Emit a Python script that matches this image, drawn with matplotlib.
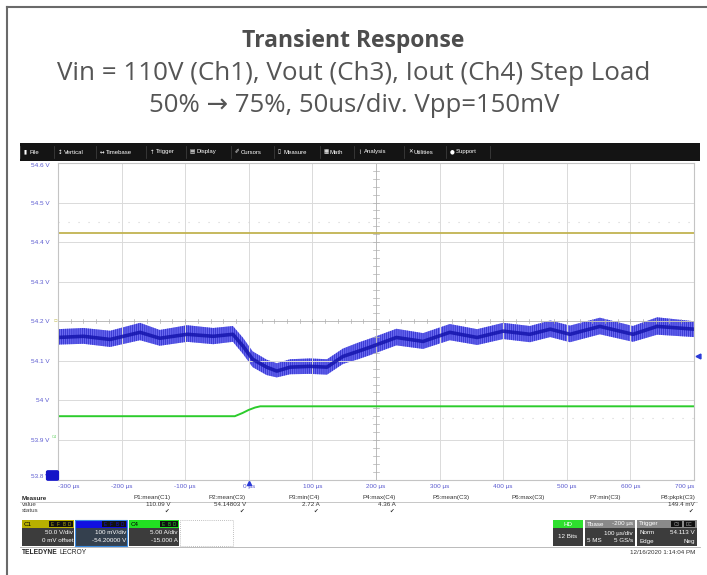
import matplotlib.pyplot as plt
from matplotlib.patches import Rectangle, FancyBboxPatch
from matplotlib.lines import Line2D
import matplotlib.transforms as mtransforms
import numpy as np

W, H = 707, 575

# ---- data ----
x_ticks = [-300, -200, -100, 0, 100, 200, 300, 400, 500, 600, 700]
x_labels = ["-300 µs", "-200 µs", "-100 µs", "0 µs", "100 µs", "200 µs",
            "300 µs", "400 µs", "500 µs", "600 µs", "700 µs"]
y_ticks = [54.6, 54.5, 54.4, 54.3, 54.2, 54.1, 54.0, 53.9, 53.8]
y_labels = ["54.6 V", "54.5 V", "54.4 V", "54.3 V", "54.2 V", "54.1 V",
            "54 V", "53.9 V", "53.8 V"]

# Ch1 (Vin) - flat
ch1_t = [-300, 700]
ch1_v = [54.423, 54.423]

# Ch4 (Iout) - step load
ch4_t = [-300, -22, -10, 0, 10, 18, 700]
ch4_v = [53.960, 53.960, 53.968, 53.976, 53.982, 53.985, 53.985]

# Ch3 (Vout) - mean and noise envelope
ch3_t = [-300, -260, -218, -171, -140, -97, -56, -25, -9, 6, 28, 44, 65, 96,
         123, 148, 172, 190, 232, 274, 316, 359, 400, 442, 474, 505, 552,
         604, 642, 700]
ch3_mid = [54.159, 54.162, 54.154, 54.172, 54.157, 54.167, 54.162, 54.167,
           54.137, 54.104, 54.084, 54.074, 54.084, 54.086, 54.084, 54.111,
           54.124, 54.134, 54.159, 54.149, 54.172, 54.159, 54.175, 54.167,
           54.180, 54.167, 54.187, 54.167, 54.187, 54.180]
ch3_hi = [54.180, 54.183, 54.176, 54.196, 54.178, 54.190, 54.183, 54.188,
          54.158, 54.124, 54.103, 54.094, 54.104, 54.106, 54.104, 54.131,
          54.146, 54.156, 54.181, 54.170, 54.193, 54.180, 54.196, 54.188,
          54.202, 54.189, 54.209, 54.188, 54.210, 54.200]
ch3_lo = [54.141, 54.143, 54.135, 54.152, 54.138, 54.148, 54.142, 54.148,
          54.117, 54.084, 54.064, 54.058, 54.066, 54.067, 54.065, 54.092,
          54.104, 54.114, 54.139, 54.130, 54.152, 54.140, 54.155, 54.147,
          54.160, 54.147, 54.167, 54.148, 54.166, 54.160]
trig_level = 54.113

menu = ["File", "Vertical", "Timebase", "Trigger", "Display", "Cursors",
        "Measure", "Math", "Analysis", "Utilities", "Support"]
menu_icons = ["▮", "↕", "↔", "↑", "▤", "✐", "▯", "▦", "⌇", "✕", "●"]
menu_x = [24, 58, 100, 150, 190, 235, 278, 324, 358, 408, 450]

meas_names = ["P1:mean(C1)", "P2:mean(C3)", "P3:min(C4)", "P4:max(C4)",
              "P5:mean(C3)", "P6:max(C3)", "P7:min(C3)", "P8:pkpk(C3)"]
meas_values = ["110.09 V", "54.14803 V", "2.72 A", "4.36 A", "", "", "",
               "149.4 mV"]
meas_ok = [True, True, True, True, False, False, False, True]

plt.rcParams["hatch.linewidth"] = 0.45
fig = plt.figure(figsize=(W / 100, H / 100), dpi=100)
fig.patch.set_facecolor("white")

def X(px):
    return px / W

def Y(py):
    return 1 - py / H

def box(x0, y0, x1, y1, **kw):
    r = Rectangle((X(x0), Y(y1)), X(x1) - X(x0), Y(y0) - Y(y1),
                  transform=fig.transFigure, **kw)
    fig.add_artist(r)

def txt(x, y, s, **kw):
    kw.setdefault("va", "center")
    kw.setdefault("fontsize", 4.5)
    kw.setdefault("family", "Liberation Sans")
    fig.text(X(x), Y(y), s, **kw)

def hline(x0, x1, y, **kw):
    fig.add_artist(Line2D([X(x0), X(x1)], [Y(y), Y(y)],
                          transform=fig.transFigure, **kw))

def vline(x, y0, y1, **kw):
    fig.add_artist(Line2D([X(x), X(x)], [Y(y0), Y(y1)],
                          transform=fig.transFigure, **kw))

# outer frame (left + top)
hline(7, 707, 7, color="#6a6a6a", lw=1.5)
vline(7, 7, 575, color="#6a6a6a", lw=1.5)

# titles
title_font = "Open Sans"
txt(353, 41, "Transient Response", fontsize=16.5, fontweight="bold",
    color="#4d4d4d", ha="center", family=title_font)
txt(354, 73, "Vin = 110V (Ch1), Vout (Ch3), Iout (Ch4) Step Load",
    fontsize=18.7, color="#555555", ha="center", family=title_font)
txt(354, 106, "50% → 75%, 50us/div. Vpp=150mV",
    fontsize=18.5, color="#555555", ha="center",
    family=[title_font, "DejaVu Sans"])

# toolbar
box(20, 143, 700, 161, color="#141414", lw=0)
for icon, name, x in zip(menu_icons, menu, menu_x):
    txt(x, 152, icon, color="white", fontsize=4, family="DejaVu Sans")
    txt(x + 6, 152, name, color="white", fontsize=4.3)
    vline(x - 4, 146, 158, color="#444444", lw=0.5)
vline(490, 146, 158, color="#444444", lw=0.5)

# scope grid
ax = fig.add_axes([X(58), Y(479.5), X(694) - X(58), Y(163) - Y(479.5)])
ax.set_xlim(-300, 700)
ax.set_ylim(53.8, 54.6)
ax.set_xticks(x_ticks)
ax.set_xticklabels(x_labels)
ax.set_yticks(y_ticks)
ax.set_yticklabels(y_labels)
ax.tick_params(length=0, labelsize=4.6, labelcolor="#5a5ad0", pad=3)
ax.tick_params(axis="y", pad=6)
for lab in ax.get_xticklabels() + ax.get_yticklabels():
    lab.set_family("Liberation Sans")
xl = ax.get_xticklabels()
xl[0].set_ha("left")
xl[-1].set_ha("right")
yl = ax.get_yticklabels()
yl[0].set_va("top")
yl[-1].set_va("bottom")
ax.grid(True, color="#dadada", lw=0.7)
for sp in ax.spines.values():
    sp.set_color("#c4c4c4")
    sp.set_linewidth(0.8)

# centre cross with minor ticks
xc, yc = 200, 54.2
ax.axhline(yc, color="#bdbdbd", lw=0.7)
ax.axvline(xc, color="#bdbdbd", lw=0.7)
for xm in np.arange(-300, 701, 20):
    ax.plot([xm, xm], [yc - 0.005, yc + 0.005], color="#b0b0b0", lw=0.5)
for ym in np.arange(53.8, 54.601, 0.02):
    ax.plot([xc - 4, xc + 4], [ym, ym], color="#b0b0b0", lw=0.5)

# faint dotted ghost rows
ax.plot([-300, 700], [54.451, 54.451], color="#d4d4d4", lw=0.8, ls=(0, (1, 8)))
ax.plot([20, 700], [53.955, 53.955], color="#d4d4d4", lw=0.8, ls=(0, (1, 8)))

# traces
ax.plot(ch1_t, ch1_v, color="#c2b350", lw=1.3)
ax.plot(ch4_t, ch4_v, color="#2ccc2c", lw=1.4)
ax.fill_between(ch3_t, ch3_lo, ch3_hi, facecolor="#6a6af0",
                edgecolor="#2222c4", hatch="||||||||", lw=0)
ax.plot(ch3_t, ch3_mid, color="#1818b0", lw=2.6, alpha=0.9)

# markers
blend = mtransforms.blended_transform_factory(ax.transAxes, ax.transData)
ax.plot([1.006], [trig_level], marker="<", ms=3.5, color="#2a3ad8",
        transform=blend, clip_on=False)
blend2 = mtransforms.blended_transform_factory(ax.transData, ax.transAxes)
ax.plot([0], [-0.012], marker="^", ms=3, color="#2a3ad8",
        transform=blend2, clip_on=False)
fig.add_artist(FancyBboxPatch((X(48), Y(479)), X(57) - X(48), Y(472) - Y(479),
                              boxstyle="round,pad=0.002", color="#1414c8",
                              transform=fig.transFigure))
txt(55, 321, "▫", color="#c8c060", fontsize=4, family="DejaVu Sans", ha="center")
txt(54, 437, "C4", color="#5cd05c", fontsize=2.8, ha="center")

# measure table
txt(22, 499, "Measure", fontweight="bold", color="#222222")
txt(22, 504.5, "value", color="#444444")
txt(22, 510, "status", color="#444444")
hline(20, 697, 502, color="#b0b0b0", lw=0.5)
col_right = [171, 246, 320, 396, 470, 545, 621, 695]
for name, val, ok, xr in zip(meas_names, meas_values, meas_ok, col_right):
    txt(xr, 498, name, ha="right", color="#333333")
    txt(xr, 505, val, ha="right", color="#333333")
    if ok:
        txt(xr - 2, 511, "✔", ha="right", color="#333333", fontsize=4,
            family="DejaVu Sans")

# channel boxes
chans = [("C1", 22, 74, "#b8b000", "#3c3c3c", "50.0 V/div", "0 mV offset", "EFBD"),
         ("C3", 75, 127, "#1010e0", "#34404e", "100 mV/div", "-54.20000 V", "EFBD"),
         ("C4", 129, 179, "#22e022", "#3c3c3c", "5.00 A/div", "-15.000 A", "EBD")]
for name, x0, x1, hc, bc, l1, l2, flags in chans:
    box(x0, 520, x1, 528, color=hc, lw=0)
    box(x0, 528, x1, 546, color=bc, lw=0)
    if name == "C3":
        box(x0, 520, x1, 546, fill=False, ec="#3a8ae0", lw=0.8)
    txt(x0 + 2, 524, name, color="black" if name != "C3" else "#1010e0",
        fontsize=4.5)
    for k, f in enumerate(flags[::-1]):
        bx = x1 - 1 - 6 * (k + 1)
        box(bx, 521, bx + 5.5, 527, color="#111111", lw=0)
        txt(bx + 2.75, 524, f, color=hc, fontsize=3.3, ha="center")
    txt(x1 - 1, 533, l1, color="white", ha="right")
    txt(x1 - 1, 541, l2, color="white", ha="right")
box(180, 520, 233, 546, fill=False, ec="#aaaaaa", lw=0.6, ls=(0, (1, 1.5)))

# acquisition boxes (right)
box(553, 520, 583, 528, color="#2ee02e", lw=0)
box(553, 528, 583, 546, color="#3c3c3c", lw=0)
txt(568, 524, "HD", color="white", ha="center")
txt(568, 537, "12 Bits", color="white", ha="center")

box(585, 520, 635, 528, color="#8a8a8a", lw=0)
box(585, 528, 635, 546, color="#3c3c3c", lw=0)
txt(587, 524, "Tbase", color="white")
txt(633, 524, "-200 µs", color="white", ha="right")
txt(633, 533, "100 µs/div", color="white", ha="right")
txt(587, 541, "5 MS", color="white")
txt(633, 541, "5 GS/s", color="white", ha="right")

box(637, 520, 697, 528, color="#8a8a8a", lw=0)
box(637, 528, 697, 546, color="#3c3c3c", lw=0)
txt(639, 524, "Trigger", color="white")
for lab, bx in [("C3", 671), ("DC", 684)]:
    box(bx, 521, bx + 11, 527, color="#111111", lw=0)
    txt(bx + 5.5, 524, lab, color="#aaaaaa", fontsize=3.3, ha="center")
txt(639, 533, "Norm", color="white")
txt(695, 533, "54.113 V", color="white", ha="right")
txt(639, 541, "Edge", color="white")
txt(695, 541, "Neg", color="white", ha="right")

hline(20, 700, 547, color="#b0b0b0", lw=0.6)
txt(22, 552.5, "TELEDYNE", fontweight="bold", color="#222222", fontsize=4.8)
txt(60, 552.5, "LECROY", color="#222222", fontsize=4.8)
txt(695, 552.5, "12/16/2020 1:14:04 PM", ha="right", color="#333333")

fig.savefig("out.png", dpi=100)
